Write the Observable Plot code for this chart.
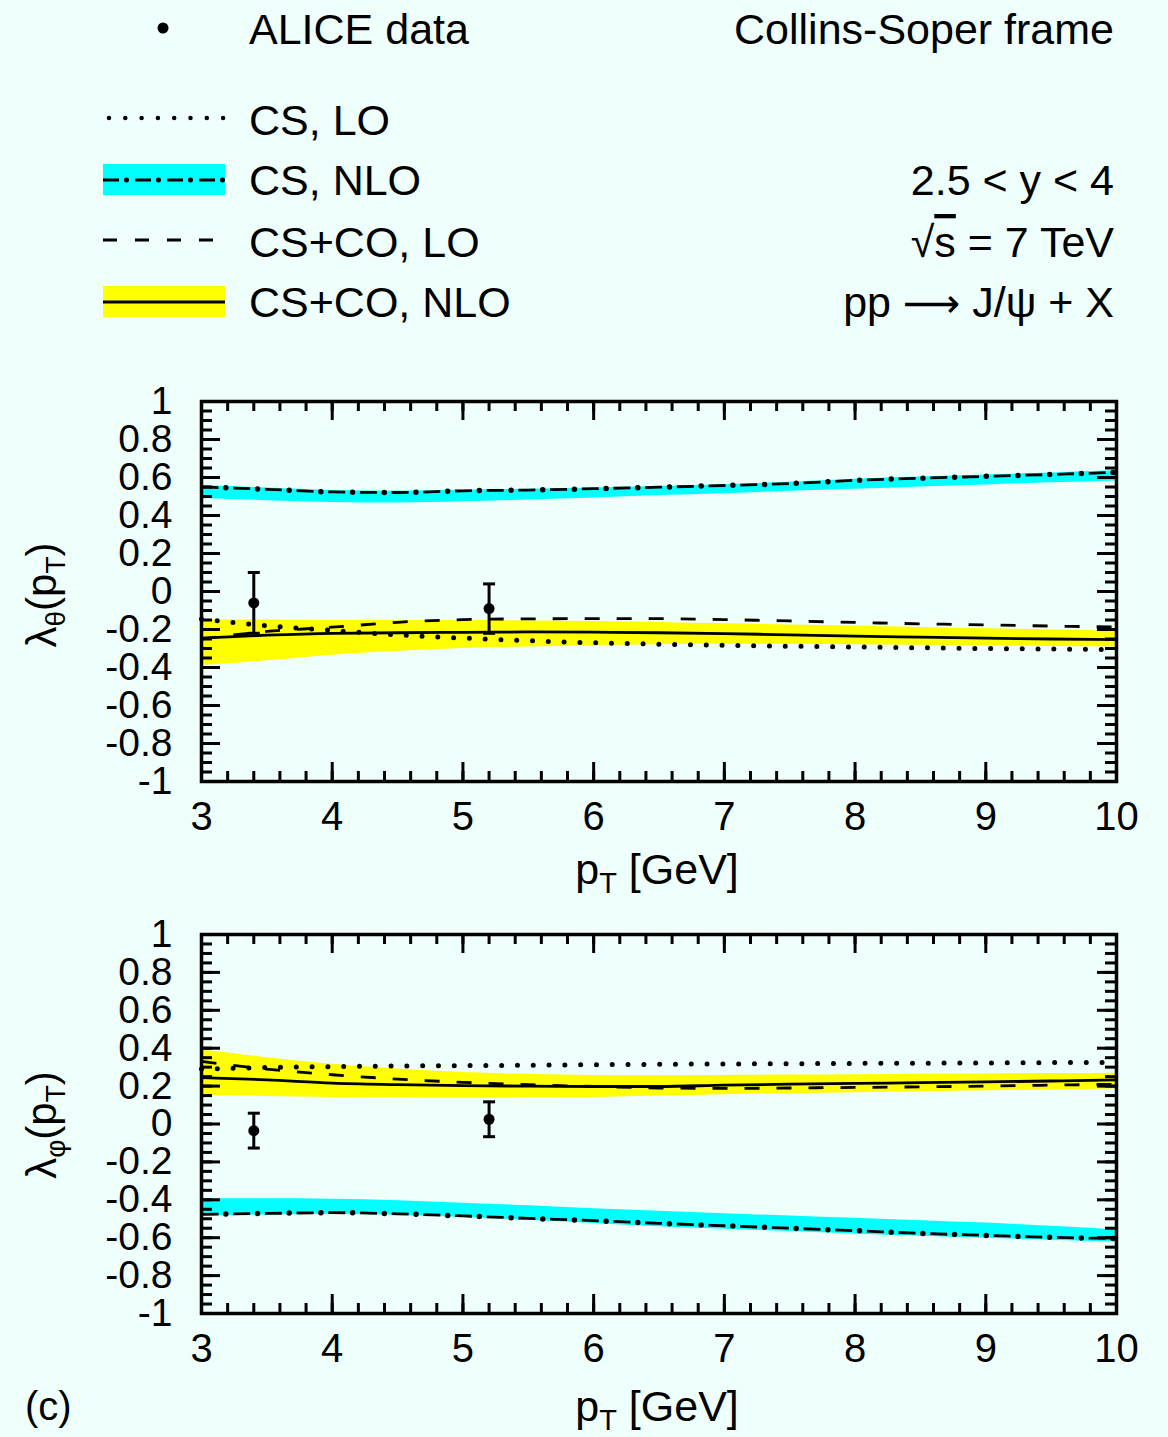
<!DOCTYPE html>
<html><head><meta charset="utf-8">
<script src="https://cdn.jsdelivr.net/npm/d3@7"></script>
<script src="https://cdn.jsdelivr.net/npm/@observablehq/plot@0.6"></script>
<style>
body{margin:0;background:#effffb;}
#wrap{width:1168px;height:1437px;font-family:"Liberation Sans",Arial,Helvetica,sans-serif;}
svg{display:block}
</style></head><body><div id="wrap"></div>
<script>
// ---------- data ----------
const pT = [3,3.5,4,4.5,5,5.5,6,6.5,7,7.5,8,8.5,9,9.5,10];

// lambda_theta panel
const csLO_th      = [-0.145,-0.18,-0.205,-0.228,-0.245,-0.259,-0.27,-0.277,-0.283,-0.288,-0.292,-0.296,-0.3,-0.303,-0.306];
const csNLO_th     = [0.55,0.538,0.524,0.521,0.53,0.534,0.541,0.549,0.558,0.568,0.585,0.596,0.606,0.616,0.627];
const csNLO_th_lo  = [0.49,0.478,0.469,0.466,0.472,0.481,0.492,0.505,0.515,0.527,0.538,0.55,0.561,0.572,0.582];
const csNLO_th_hi  = [0.556,0.545,0.532,0.528,0.533,0.538,0.545,0.553,0.562,0.575,0.591,0.602,0.613,0.624,0.635];
const ccLO_th      = [-0.25,-0.21,-0.188,-0.162,-0.148,-0.144,-0.143,-0.143,-0.148,-0.155,-0.163,-0.17,-0.176,-0.182,-0.187];
const ccNLO_th     = [-0.245,-0.23,-0.22,-0.217,-0.215,-0.213,-0.214,-0.217,-0.222,-0.228,-0.235,-0.24,-0.245,-0.25,-0.253];
const ccNLO_th_lo  = [-0.39,-0.365,-0.335,-0.315,-0.3,-0.292,-0.285,-0.28,-0.278,-0.278,-0.28,-0.283,-0.286,-0.289,-0.292];
const ccNLO_th_hi  = [-0.15,-0.15,-0.152,-0.152,-0.153,-0.155,-0.158,-0.163,-0.17,-0.176,-0.182,-0.189,-0.196,-0.202,-0.208];

// lambda_phi panel
const csLO_ph      = [0.29,0.298,0.303,0.306,0.308,0.31,0.313,0.315,0.317,0.318,0.32,0.321,0.322,0.324,0.325];
const csNLO_ph     = [-0.477,-0.472,-0.468,-0.474,-0.485,-0.498,-0.51,-0.524,-0.537,-0.55,-0.563,-0.577,-0.588,-0.598,-0.605];
const csNLO_ph_lo  = [-0.485,-0.48,-0.476,-0.482,-0.494,-0.508,-0.525,-0.542,-0.555,-0.567,-0.58,-0.592,-0.603,-0.613,-0.623];
const csNLO_ph_hi  = [-0.395,-0.395,-0.397,-0.405,-0.418,-0.432,-0.447,-0.46,-0.473,-0.486,-0.498,-0.51,-0.523,-0.54,-0.56];
const ccLO_ph      = [0.33,0.29,0.26,0.237,0.22,0.207,0.198,0.19,0.188,0.19,0.193,0.196,0.2,0.205,0.21];
const ccNLO_ph     = [0.245,0.233,0.216,0.208,0.202,0.2,0.198,0.198,0.205,0.21,0.214,0.218,0.222,0.227,0.233];
const ccNLO_ph_lo  = [0.15,0.145,0.14,0.138,0.137,0.138,0.14,0.148,0.155,0.16,0.165,0.17,0.175,0.18,0.185];
const ccNLO_ph_hi  = [0.39,0.35,0.315,0.29,0.272,0.262,0.256,0.255,0.256,0.258,0.26,0.262,0.264,0.266,0.268];

// ALICE data
const alicePt       = [3.4, 5.2];
const aliceTheta    = [-0.06, -0.09];
const aliceThetaErr = [0.16, 0.13];
const alicePhi      = [-0.035, 0.025];
const alicePhiErr   = [0.092, 0.092];

// ticks / labels
const xMajor = [3,4,5,6,7,8,9,10];
const xMinor = d3.range(30, 101, 2).map(d => d / 10);
const yMajor = [-1,-0.8,-0.6,-0.4,-0.2,0,0.2,0.4,0.6,0.8,1];
const yMinor = d3.range(-20, 21).map(d => d / 20);
const xTitleMain = "p", xTitleSub = "T", xTitleRest = " [GeV]";

// ---------- drawing ----------
const FONT = '"Liberation Sans", Arial, Helvetica, sans-serif';
const W = 1168, ML = 201, MR = 52;
const CYAN = "#00ffff", YELLOW = "#ffff00";

const rows = (ys, lo, hi) => pT.map((x, i) => ({x, y: ys[i], lo: lo ? lo[i] : null, hi: hi ? hi[i] : null}));

const capSymbol = {
  draw(ctx, size) { const w = Math.sqrt(size / Math.PI); ctx.moveTo(-w, 0); ctx.lineTo(w, 0); }
};

function panel({height, mTop, mBottom, csLO, csNLO, csLo, csHi, ccLO, ccNLO, ccLo, ccHi, pts, errs}) {
  const innerH = height - mTop - mBottom, innerW = W - ML - MR;
  const cs = rows(csNLO, csLo, csHi), cc = rows(ccNLO, ccLo, ccHi);
  const data = alicePt.map((x, i) => ({x, y: pts[i], lo: pts[i] - errs[i], hi: pts[i] + errs[i]}));
  const lineOpts = {x: "x", y: "y", stroke: "black", curve: "monotone-x"};
  return Plot.plot({
    width: W, height, marginTop: mTop, marginBottom: mBottom, marginLeft: ML, marginRight: MR,
    x: {domain: [3, 10]}, y: {domain: [-1, 1]},
    style: {background: "transparent", fontFamily: FONT, fontSize: "40px", color: "black"},
    marks: [
      Plot.areaY(cs, {x: "x", y1: "lo", y2: "hi", fill: CYAN, curve: "monotone-x"}),
      Plot.areaY(cc, {x: "x", y1: "lo", y2: "hi", fill: YELLOW, curve: "monotone-x"}),
      Plot.line(rows(ccLO), {...lineOpts, strokeWidth: 2.8, strokeDasharray: "15 17", strokeLinecap: "butt"}),
      Plot.line(rows(csLO), {...lineOpts, strokeWidth: 5, strokeDasharray: "0 15.8", strokeLinecap: "round"}),
      Plot.line(cs, {...lineOpts, strokeWidth: 2.8, strokeDasharray: "17 14.7", strokeLinecap: "butt"}),
      Plot.line(cs, {...lineOpts, strokeWidth: 5.5, strokeDasharray: "0 31.7", strokeDashoffset: 7.35, strokeLinecap: "round"}),
      Plot.line(cc, {...lineOpts, strokeWidth: 2.8}),
      Plot.ruleX(data, {x: "x", y1: "lo", y2: "hi", stroke: "black", strokeWidth: 3}),
      Plot.dot(data, {x: "x", y: "lo", symbol: capSymbol, r: 6, stroke: "black", strokeWidth: 3, fill: "none"}),
      Plot.dot(data, {x: "x", y: "hi", symbol: capSymbol, r: 6, stroke: "black", strokeWidth: 3, fill: "none"}),
      Plot.dot(data, {x: "x", y: "y", r: 5.5, fill: "black"}),
      // inward ticks
      Plot.ruleX(xMajor, {x: d => d, insetTop: innerH - 19, stroke: "black", strokeWidth: 3}),
      Plot.ruleX(xMajor, {x: d => d, insetBottom: innerH - 19, stroke: "black", strokeWidth: 3}),
      Plot.ruleX(xMinor, {x: d => d, insetTop: innerH - 10, stroke: "black", strokeWidth: 3}),
      Plot.ruleX(xMinor, {x: d => d, insetBottom: innerH - 10, stroke: "black", strokeWidth: 3}),
      Plot.ruleY(yMajor, {y: d => d, insetRight: innerW - 19, stroke: "black", strokeWidth: 3}),
      Plot.ruleY(yMajor, {y: d => d, insetLeft: innerW - 19, stroke: "black", strokeWidth: 3}),
      Plot.ruleY(yMinor, {y: d => d, insetRight: innerW - 11, stroke: "black", strokeWidth: 3}),
      Plot.ruleY(yMinor, {y: d => d, insetLeft: innerW - 11, stroke: "black", strokeWidth: 3}),
      Plot.frame({stroke: "black", strokeWidth: 3.5}),
      Plot.axisX({ticks: xMajor, tickSize: 0, tickPadding: 20, fontSize: 40, tickFormat: d => String(d), label: null, fill: "black"}),
      Plot.axisY({ticks: yMajor, tickSize: 0, tickPadding: 29, fontSize: 39, tickFormat: d => String(d), label: null, fill: "black"})
    ]
  });
}

function addYLabel(svg, cx, cy, sub) {
  const t = d3.select(svg).append("text")
    .attr("transform", `translate(${cx},${cy}) rotate(-90)`)
    .attr("text-anchor", "middle").attr("font-size", 42).attr("fill", "black")
    .attr("font-family", FONT);
  t.append("tspan").text("λ");
  t.append("tspan").attr("font-size", 28).attr("dy", 9).text(sub);
  t.append("tspan").attr("dy", -9).text("(p");
  t.append("tspan").attr("font-size", 28).attr("dy", 9).text(xTitleSub);
  t.append("tspan").attr("dy", -9).text(")");
}
function addXTitle(svg, cx, by) {
  const t = d3.select(svg).append("text").attr("x", cx).attr("y", by)
    .attr("text-anchor", "middle").attr("font-size", 43).attr("fill", "black").attr("font-family", FONT);
  t.append("tspan").text(xTitleMain);
  t.append("tspan").attr("font-size", 29).attr("dy", 9).text(xTitleSub);
  t.append("tspan").attr("dy", -9).text(xTitleRest);
}

// ---------- legend ----------
function legend() {
  const svg = d3.create("svg").attr("width", W).attr("height", 360)
    .attr("font-family", FONT).attr("font-size", 43);
  const g = svg.append("g");
  g.append("circle").attr("cx", 163).attr("cy", 28).attr("r", 5.5).attr("fill", "black");
  const txt = (x, y, s, anchor = "start") => g.append("text").attr("x", x).attr("y", y).attr("text-anchor", anchor).text(s);
  txt(249, 44, "ALICE data");
  txt(1114, 44, "Collins-Soper frame", "end");
  // CS LO dotted
  g.append("line").attr("x1", 109).attr("x2", 224).attr("y1", 118).attr("y2", 118)
    .attr("stroke", "black").attr("stroke-width", 4.5).attr("stroke-linecap", "round").attr("stroke-dasharray", "0 16.3");
  txt(249, 135, "CS, LO");
  // CS NLO
  g.append("rect").attr("x", 103).attr("y", 164).attr("width", 122).attr("height", 31).attr("fill", CYAN);
  g.append("line").attr("x1", 103).attr("x2", 225).attr("y1", 180).attr("y2", 180)
    .attr("stroke", "black").attr("stroke-width", 2.8).attr("stroke-dasharray", "16 16");
  g.append("line").attr("x1", 103).attr("x2", 225).attr("y1", 180).attr("y2", 180)
    .attr("stroke", "black").attr("stroke-width", 5).attr("stroke-linecap", "round").attr("stroke-dasharray", "0 32").attr("stroke-dashoffset", 8.5);
  txt(249, 195, "CS, NLO");
  // CS+CO LO dashed
  g.append("line").attr("x1", 103).attr("x2", 214).attr("y1", 240).attr("y2", 240)
    .attr("stroke", "black").attr("stroke-width", 2.8).attr("stroke-dasharray", "14 18");
  txt(249, 257, "CS+CO, LO");
  // CS+CO NLO
  g.append("rect").attr("x", 103).attr("y", 286).attr("width", 122).attr("height", 31).attr("fill", YELLOW);
  g.append("line").attr("x1", 103).attr("x2", 225).attr("y1", 302).attr("y2", 302)
    .attr("stroke", "black").attr("stroke-width", 3);
  txt(249, 317, "CS+CO, NLO");
  // right block
  txt(1114, 195, "2.5 < y < 4", "end");
  const s = g.append("text").attr("x", 1114).attr("y", 257).attr("text-anchor", "end");
  s.append("tspan").text("√");
  s.append("tspan").style("text-decoration", "overline").text("s");
  s.append("tspan").text(" = 7 TeV");
  const r = g.append("text").attr("x", 1114).attr("y", 317).attr("text-anchor", "end");
  r.append("tspan").text("pp ");
  r.append("tspan").attr("font-family", '"DejaVu Sans", sans-serif').attr("font-size", 40).text("⟶");
  r.append("tspan").text(" J/ψ + X");
  return svg.node();
}

const wrap = document.getElementById("wrap");
wrap.appendChild(legend());

const p1 = panel({height: 540, mTop: 41, mBottom: 119,
  csLO: csLO_th, csNLO: csNLO_th, csLo: csNLO_th_lo, csHi: csNLO_th_hi,
  ccLO: ccLO_th, ccNLO: ccNLO_th, ccLo: ccNLO_th_lo, ccHi: ccNLO_th_hi,
  pts: aliceTheta, errs: aliceThetaErr});
addYLabel(p1, 56, 235, "θ");
addXTitle(p1, 657, 524);
wrap.appendChild(p1);

const p2 = panel({height: 537, mTop: 34, mBottom: 124,
  csLO: csLO_ph, csNLO: csNLO_ph, csLo: csNLO_ph_lo, csHi: csNLO_ph_hi,
  ccLO: ccLO_ph, ccNLO: ccNLO_ph, ccLo: ccNLO_ph_lo, ccHi: ccNLO_ph_hi,
  pts: alicePhi, errs: alicePhiErr});
addYLabel(p2, 56, 225, "φ");
addXTitle(p2, 657, 521);
d3.select(p2).append("text").attr("x", 25).attr("y", 520).attr("font-size", 40)
  .attr("text-anchor", "start").attr("font-family", FONT).attr("fill", "black").text("(c)");
wrap.appendChild(p2);
</script>
</body></html>
